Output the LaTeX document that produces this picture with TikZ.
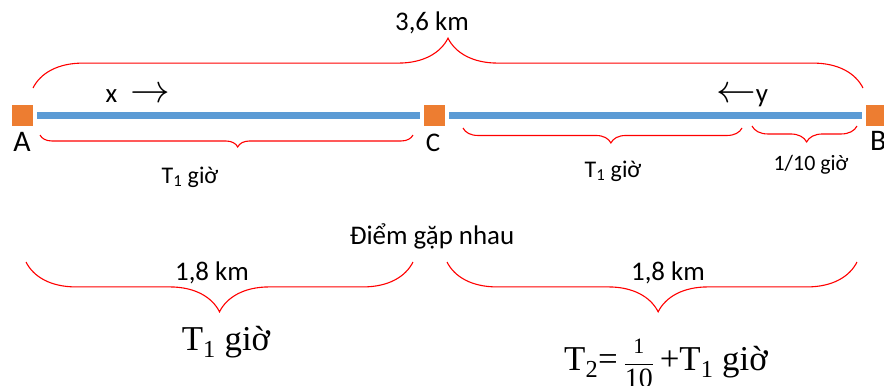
\documentclass[tikz,border=0pt]{standalone}
\usepackage{graphicx}
\usepackage{fontspec}
\setmainfont{Carlito}
\newfontfamily\timesfont{Liberation Serif}
\usetikzlibrary{positioning,decorations.pathreplacing}
\definecolor{stopfill}{RGB}{237,125,49}
\definecolor{roadblue}{RGB}{91,155,213}

\begin{document}
\begin{tikzpicture}[
    x=1bp, y=1bp,
    stop/.style={
        fill=stopfill,
        minimum size=21bp,
        inner sep=0pt
    },
    road/.style={
        roadblue, line width=7bp,
        shorten <=4bp, shorten >=4bp
    },
    upbrace/.style={
        draw=red, line width=1.1bp,
        decorate, decoration={brace, amplitude=#1}
    },
    downbrace/.style={
        draw=red, line width=1.1bp,
        decorate, decoration={brace, mirror, amplitude=#1}
    },
    lbl/.style={
        anchor=base, inner sep=0pt,
        font=\fontsize{27}{29}\selectfont
    },
    small/.style={
        anchor=base, inner sep=0pt,
        font=\fontsize{24}{26}\selectfont
    },
    big/.style={
        anchor=base, inner sep=0pt,
        font=\fontsize{35}{37}\selectfont\timesfont
    }
]
\useasboundingbox (0,0) rectangle (884,-385);

% Stops and road
\node[stop] (A) at (22.5,-115) {};
\node[stop] (C) at (434.5,-115) {};
\node[stop] (B) at (876.5,-115) {};
\draw[road] (A) -- (C);
\draw[road] (C) -- (B);

\node[lbl, font=\fontsize{30}{32}\selectfont] (labA) at (22,-151) {A};
\node[lbl, font=\fontsize{27}{29}\selectfont] (labC) at (433,-151) {C};
\node[lbl, font=\fontsize{30}{32}\selectfont, anchor=base west] (labB) at (870,-150) {B};

\node[lbl] (xdir) at (138,-102) {x\; \scalebox{1.6}{$\rightarrow$}};
\node[lbl] (ydir) at (742,-102) {\scalebox{1.6}{$\leftarrow$}y};

% Brace end points
\coordinate (topL) at (33,-88);
\coordinate (topR) at (863,-88);
\coordinate (acL)  at (40,-135);
\coordinate (acR)  at (413,-135);
\coordinate (cyL)  at (463,-128);
\coordinate (cyR)  at (742,-128);
\coordinate (ybL)  at (752,-126);
\coordinate (ybR)  at (857,-126);
\coordinate (lowL) at (26,-262);
\coordinate (lowM) at (413,-262);
\coordinate (lowN) at (447,-262);
\coordinate (lowR) at (857,-262);

% Braces
\draw[upbrace=50] (topL) -- (topR);
\draw[downbrace=12, decoration={aspect=0.53}] (acL) -- (acR);
\draw[downbrace=15, decoration={aspect=0.53}] (cyL) -- (cyR);
\draw[downbrace=16, decoration={aspect=0.52}] (ybL) -- (ybR);
\draw[downbrace=50] (lowL) -- (lowM);
\draw[downbrace=50, decoration={aspect=0.515}] (lowN) -- (lowR);

% Labels
\node[lbl] (total) at (432,-30) {3,6 km};
\node[small] (tAC) at (190,-183) {T\textsubscript{1} giờ};
\node[small] (tCY) at (613,-177) {T\textsubscript{1} giờ};
\node[small, font=\fontsize{22}{24}\selectfont] (tYB) at (811,-170) {1/10 giờ};
\node[lbl] (meet) at (432,-244) {Điểm gặp nhau};
\node[lbl] (halfL) at (212,-280) {1,8 km};
\node[lbl] (halfR) at (668,-280) {1,8 km};
\node[big] (timeL) at (226,-350) {T\textsubscript{1} giờ};
\node[big] (timeR) at (666,-370)
  {T\textsubscript{2}=\,$\displaystyle\frac{\hbox{\fontsize{22}{22}\selectfont 1}}{\hbox{\fontsize{28}{28}\selectfont 10}}$\,+T\textsubscript{1} giờ};

\end{tikzpicture}
\end{document}
